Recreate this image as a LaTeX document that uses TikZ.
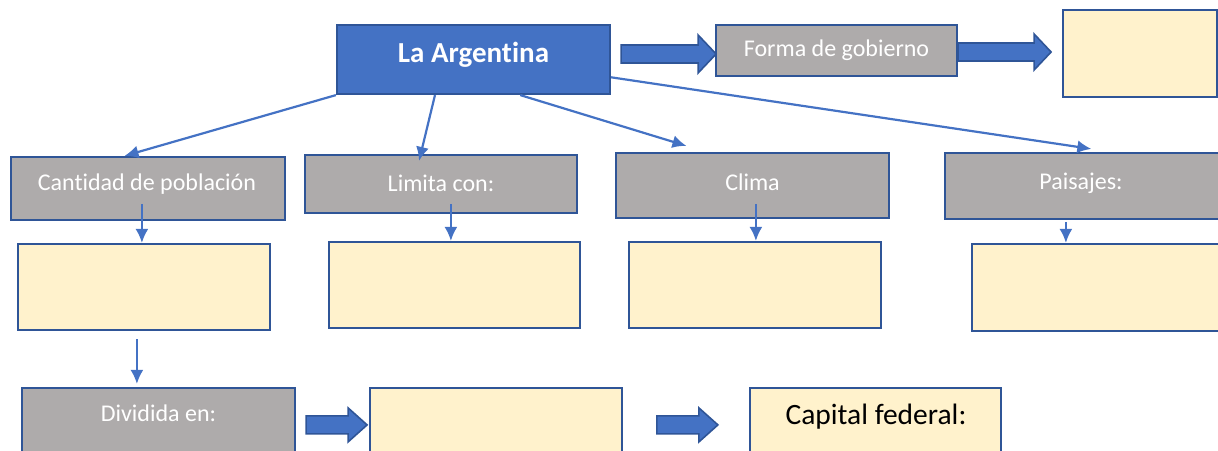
\documentclass[tikz,border=0pt]{standalone}
\usepackage{fontspec}
\setmainfont{Carlito}[Ligatures=NoCommon]
\usetikzlibrary{calc,arrows.meta}
\definecolor{mainblue}{HTML}{4472C4}
\definecolor{bdr}{HTML}{2F5597}
\definecolor{gfill}{HTML}{AEABAB}
\definecolor{yfill}{HTML}{FFF2CC}
\tikzset{
  gbox/.style={draw=bdr, fill=gfill, line width=2.2pt, inner sep=0pt, text=white, font=\fontsize{24}{27}\selectfont},
  ybox/.style={draw=bdr, fill=yfill, line width=2.2pt, inner sep=0pt},
  mainbox/.style={draw=bdr, fill=mainblue, line width=2.2pt, inner sep=0pt},
  conn/.style={draw=mainblue, line width=2.2pt, -{Latex[length=14pt,width=13pt]}},
  blockarrow/.style={draw=bdr, fill=mainblue, line width=1.6pt, line join=miter},
  lbl/.style={inner sep=0pt},
  wlbl/.style={inner sep=0pt, text=white, font=\fontsize{24}{27}\selectfont}
}
\begin{document}
\begin{tikzpicture}[x=1pt,y=-1pt]
\useasboundingbox (0,0) rectangle (1218,450);
% top row
\node[mainbox, minimum width=273pt, minimum height=69pt] (arg) at (473.5,59.5) {};
\node[lbl, text=white, font=\fontsize{29}{32}\selectfont\bfseries] (targ) at (473.5,55) {La Argentina};
\node[gbox, minimum width=241pt, minimum height=51pt] (forma) at (836.5,50.5) {Forma de gobierno};
\node[ybox, minimum width=154pt, minimum height=87pt] (ytop) at (1140,53.5) {};
% second row
\node[gbox, minimum width=274pt, minimum height=63pt] (cant) at (148,188.5) {};
\node[wlbl] (tcant) at (147,184) {Cantidad de población};
\node[gbox, minimum width=272pt, minimum height=58pt] (lim) at (441,184) {};
\node[wlbl] (tlim) at (441,183) {Limita con:};
\node[gbox, minimum width=273pt, minimum height=65pt] (clima) at (752.5,185.5) {};
\node[wlbl] (tclima) at (752.5,182) {Clima};
\node[gbox, minimum width=276pt, minimum height=66pt] (pais) at (1083,186) {};
\node[wlbl] (tpais) at (1081,183) {Paisajes:};
% yellow row
\node[ybox, minimum width=252pt, minimum height=86pt] (y1) at (144,287) {};
\node[ybox, minimum width=251pt, minimum height=86pt] (y2) at (454.5,285) {};
\node[ybox, minimum width=252pt, minimum height=86pt] (y3) at (755,285) {};
\node[ybox, minimum width=250pt, minimum height=87pt] (y4) at (1097,287.5) {};
% bottom row
\node[gbox, minimum width=273pt, minimum height=70pt] (div) at (158.5,423) {};
\node[wlbl] (tdiv) at (158.5,413) {Dividida en:};
\node[ybox, minimum width=252pt, minimum height=70pt] (yb1) at (496,423) {};
\node[ybox, minimum width=251pt, minimum height=70pt] (cap) at (875.5,423) {};
\node[lbl, text=black, font=\fontsize{29.5}{32}\selectfont] (tcap) at (876,417) {Capital federal:};

% connectors from La Argentina
\draw[conn] (arg.south west) -- ($(cant.north west)!0.415!(cant.north east)$);
\draw[conn] ($(arg.south west)!0.36!(arg.south east)$) -- ($(lim.north west)!0.42!(lim.north east)+(0,7)$);
\draw[conn] ($(arg.south west)!0.67!(arg.south east)$) -- ($(clima.north west)!0.26!(clima.north east)+(0,-6)$);
\draw[conn] ($(arg.north east)!0.75!(arg.south east)$) -- ($(pais.north west)!0.53!(pais.north east)+(0,-3)$);

% small vertical arrows
\draw[conn] ($(y1.north west)+(125,-39)$) -- ($(y1.north west)+(125,0)$);
\draw[conn] ($(y2.north west)+(123,-37)$) -- ($(y2.north west)+(123,0)$);
\draw[conn] ($(y3.north west)+(128,-37)$) -- ($(y3.north west)+(128,0)$);
\draw[conn] ($(y4.north west)+(95,-21)$) -- ($(y4.north west)+(95,0)$);
\draw[conn] ($(y1.south west)+(120,8)$) -- ($(div.north west)+(116,-3)$);

% block arrows
\draw[blockarrow] ($(arg.east)+(10,-14.5)$) -- ++(77,0) -- ++(0,-10) -- ++(18,19) -- ++(-18,19) -- ++(0,-10) -- ++(-77,0) -- cycle;
\draw[blockarrow] ($(forma.east)+(0,-7.5)$) -- ++(76,0) -- ++(0,-9) -- ++(17,18) -- ++(-17,18) -- ++(0,-9) -- ++(-76,0) -- cycle;
\draw[blockarrow] ($(div.north east)+(10,29)$) -- ++(42,0) -- ++(0,-8) -- ++(19,17) -- ++(-19,17) -- ++(0,-8) -- ++(-42,0) -- cycle;
\draw[blockarrow] ($(cap.north west)+(-92,29)$) -- ++(42,0) -- ++(0,-8) -- ++(19,17) -- ++(-19,17) -- ++(0,-8) -- ++(-42,0) -- cycle;
\end{tikzpicture}
\end{document}
